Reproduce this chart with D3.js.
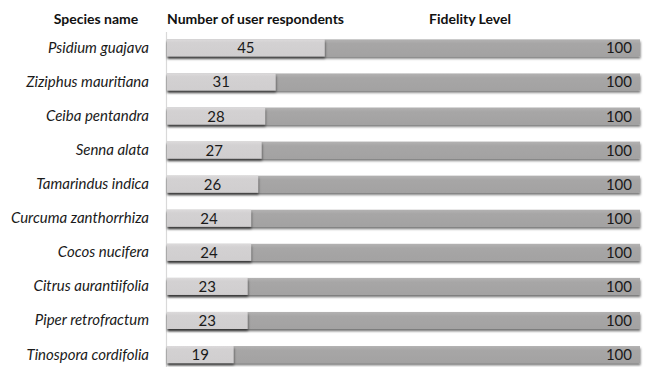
<!DOCTYPE html>
<html>
<head>
<meta charset="utf-8">
<script src="https://cdn.jsdelivr.net/npm/d3@7"></script>
<style>
  html, body { margin: 0; padding: 0; background: #ffffff; }
  svg { display: block; }
  .name { font-family: Lato, "Open Sans", sans-serif; font-style: italic; font-size: 15px; fill: #1a1a1a; }
  .val { font-family: Lato, "Open Sans", sans-serif; font-size: 15px; fill: #1a1a1a; }
  .head { font-family: Lato, "Open Sans", sans-serif; font-weight: bold; font-size: 14px; fill: #111; }
</style>
</head>
<body>
<svg id="chart" width="648" height="367"></svg>
<script>
// Species ranked by number of user respondents
const species = [
  "Psidium guajava", "Ziziphus mauritiana", "Ceiba pentandra", "Senna alata",
  "Tamarindus indica", "Curcuma zanthorrhiza", "Cocos nucifera",
  "Citrus aurantiifolia", "Piper retrofractum", "Tinospora cordifolia"
];
const respondents = [45, 31, 28, 27, 26, 24, 24, 23, 23, 19];
const fidelity = [100, 100, 100, 100, 100, 100, 100, 100, 100, 100];
const headers = ["Species name", "Number of user respondents", "Fidelity Level"];

const W = 648, H = 367;
const plotLeft = 167, plotRight = 640;

const svg = d3.select("#chart");

// soft drop shadow under each bar
const defs = svg.append("defs");
const f = defs.append("filter").attr("id", "shadow")
  .attr("x", "-5%").attr("y", "-30%").attr("width", "110%").attr("height", "190%");
f.append("feDropShadow").attr("dx", 0.5).attr("dy", 2.2)
  .attr("stdDeviation", 1.3).attr("flood-color", "#000").attr("flood-opacity", 0.55);

const grad = defs.append("linearGradient").attr("id", "darkGrad")
  .attr("x1", 0).attr("y1", 0).attr("x2", 0).attr("y2", 1);
grad.append("stop").attr("offset", "0%").attr("stop-color", "#b3b2b2");
grad.append("stop").attr("offset", "25%").attr("stop-color", "#a7a6a6");
grad.append("stop").attr("offset", "100%").attr("stop-color", "#a3a2a2");

const lightGrad = defs.append("linearGradient").attr("id", "lightGrad")
  .attr("x1", 0).attr("y1", 0).attr("x2", 0).attr("y2", 1);
lightGrad.append("stop").attr("offset", "0%").attr("stop-color", "#dcdadb");
lightGrad.append("stop").attr("offset", "20%").attr("stop-color", "#d3d1d2");
lightGrad.append("stop").attr("offset", "100%").attr("stop-color", "#d0cecf");

// Fidelity level spans the full width (0–100 %); respondent counts use their own scale
const xFid = d3.scaleLinear().domain([0, 100]).range([plotLeft, plotRight]);
const xCount = d3.scaleLinear().domain([0, 135]).range([plotLeft, plotRight]);

const y = d3.scaleBand().domain(species).range([22.3, 380.1])
  .paddingInner(0.5).paddingOuter(0.5);

// category axis line
svg.append("line")
  .attr("x1", plotLeft - 0.5).attr("x2", plotLeft - 0.5)
  .attr("y1", 32).attr("y2", H)
  .attr("stroke", "#d9d9d9").attr("stroke-width", 1.2);

const rows = svg.append("g").selectAll("g")
  .data(species.map((s, i) => ({ s, n: respondents[i], fl: fidelity[i] })))
  .join("g");

rows.append("rect")
  .attr("x", xFid(0)).attr("y", d => y(d.s))
  .attr("width", d => xFid(d.fl) - xFid(0)).attr("height", y.bandwidth())
  .attr("fill", "url(#darkGrad)").attr("filter", "url(#shadow)");

rows.append("rect")
  .attr("x", xCount(0)).attr("y", d => y(d.s))
  .attr("width", d => xCount(d.n) - xCount(0)).attr("height", y.bandwidth())
  .attr("fill", "url(#lightGrad)").attr("filter", "url(#shadow)");

// count labels centred in the light bar
rows.append("text").attr("class", "val")
  .attr("x", d => (xCount(0) + xCount(d.n)) / 2)
  .attr("y", d => y(d.s) + y.bandwidth() / 2 + 5.5)
  .attr("text-anchor", "middle")
  .text(d => d.n);

// fidelity labels at the bar end
rows.append("text").attr("class", "val")
  .attr("x", d => xFid(d.fl) - 8)
  .attr("y", d => y(d.s) + y.bandwidth() / 2 + 5.5)
  .attr("text-anchor", "end")
  .text(d => d.fl);

// species names
rows.append("text").attr("class", "name")
  .attr("x", 149)
  .attr("y", d => y(d.s) + y.bandwidth() / 2 + 5)
  .attr("text-anchor", "end")
  .text(d => d.s);

// column headers
svg.append("text").attr("class", "head").attr("x", 96).attr("y", 24)
  .attr("text-anchor", "middle").text(headers[0]);
svg.append("text").attr("class", "head").attr("x", 167).attr("y", 24)
  .attr("text-anchor", "start").text(headers[1]);
svg.append("text").attr("class", "head").attr("x", 470).attr("y", 24)
  .attr("text-anchor", "middle").text(headers[2]);
</script>
</body>
</html>
